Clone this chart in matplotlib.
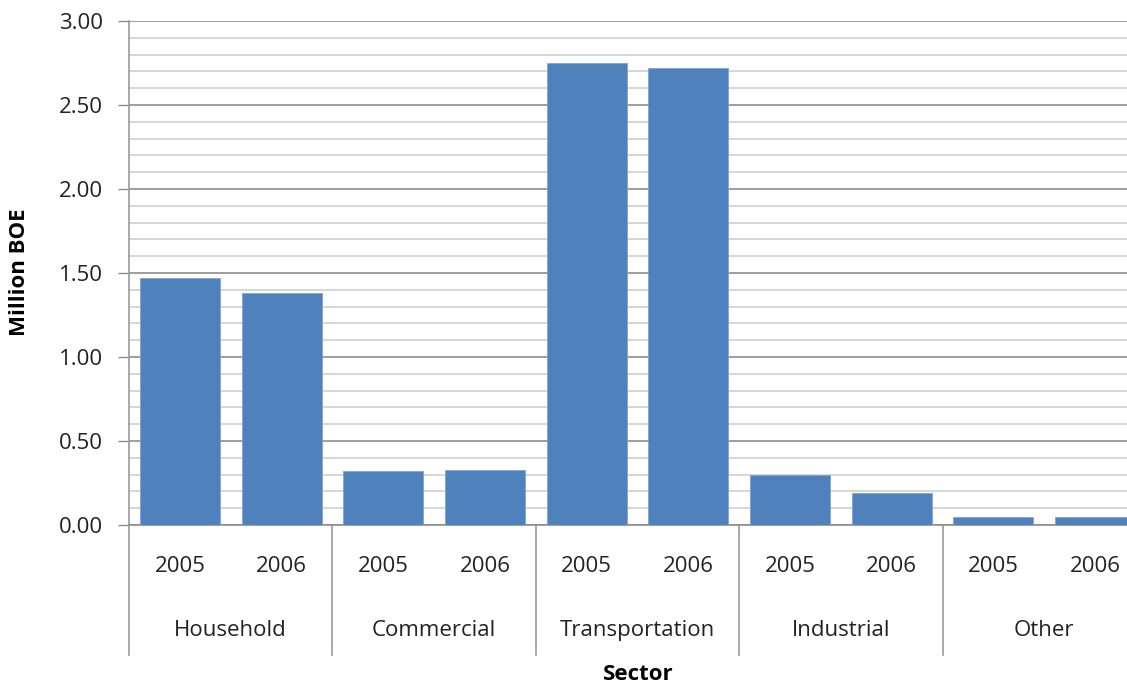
import numpy as np
import matplotlib.pyplot as plt
from matplotlib.ticker import MultipleLocator
import matplotlib.transforms as mtransforms

# Energy use by sector (million BOE)
sectors = ['Household', 'Commercial', 'Transportation', 'Industrial', 'Other']
years = ['2005', '2006']
values_2005 = [1.47, 0.32, 2.75, 0.30, 0.05]
values_2006 = [1.38, 0.33, 2.72, 0.19, 0.05]

plt.rcParams['font.family'] = ['Open Sans', 'DejaVu Sans']

values = []
for a, b in zip(values_2005, values_2006):
    values.extend([a, b])
x = np.arange(len(values))

fig = plt.figure(figsize=(11.27, 6.86), dpi=100)
# plot area runs slightly past the right edge, as in the original
ax = fig.add_axes([129 / 1127, 161 / 686, 1017 / 1127, 504 / 686])

ax.bar(x, values, width=0.787, color='#4F81BD', edgecolor='#7FA3D3',
       linewidth=0.6, zorder=3)

ax.set_xlim(-0.5, len(values) - 0.5)
ax.set_ylim(0, 3.0)
ax.yaxis.set_major_locator(MultipleLocator(0.5))
ax.yaxis.set_minor_locator(MultipleLocator(0.1))
ax.set_yticklabels([f'{v:.2f}' for v in ax.get_yticks()])
ax.grid(which='minor', axis='y', color='#D0D0D0', linewidth=1.2, zorder=0)
ax.grid(which='major', axis='y', color='#8E8E8E', linewidth=1.2, zorder=0)
ax.tick_params(axis='y', which='major', length=8, width=1, color='#8E8E8E',
               labelsize=16, pad=11, labelcolor='#222222')
ax.tick_params(axis='y', which='minor', length=0)
ax.set_xticks([])

for side in ['top', 'right']:
    ax.spines[side].set_visible(False)
ax.spines['left'].set_color('#9A9A9A')
ax.spines['bottom'].set_color('#8E8E8E')
ax.spines['left'].set_linewidth(1.2)
ax.spines['bottom'].set_linewidth(1.2)

# multi-level category axis
trans = mtransforms.blended_transform_factory(ax.transData, ax.transAxes)
for i, v in enumerate(x):
    ax.text(v, -0.083, years[i % 2], transform=trans, ha='center', va='center',
            fontsize=16, color='#222222')
for g, name in enumerate(sectors):
    ax.text(2 * g + 0.5, -0.21, name, transform=trans, ha='center',
            va='center', fontsize=16, color='#222222')
for g in range(len(sectors) + 1):
    ax.plot([2 * g - 0.5, 2 * g - 0.5], [0, -0.258], transform=trans,
            color='#9A9A9A', linewidth=1.2, clip_on=False)

fig.text(20 / 1127, 1 - 272 / 686, 'Million BOE', rotation=90, ha='center',
         va='center', fontsize=16, fontweight='bold')
fig.text(638 / 1127, 1 - 674 / 686, 'Sector', ha='center', va='center',
         fontsize=16, fontweight='bold')

plt.savefig('out.png', dpi=100)
